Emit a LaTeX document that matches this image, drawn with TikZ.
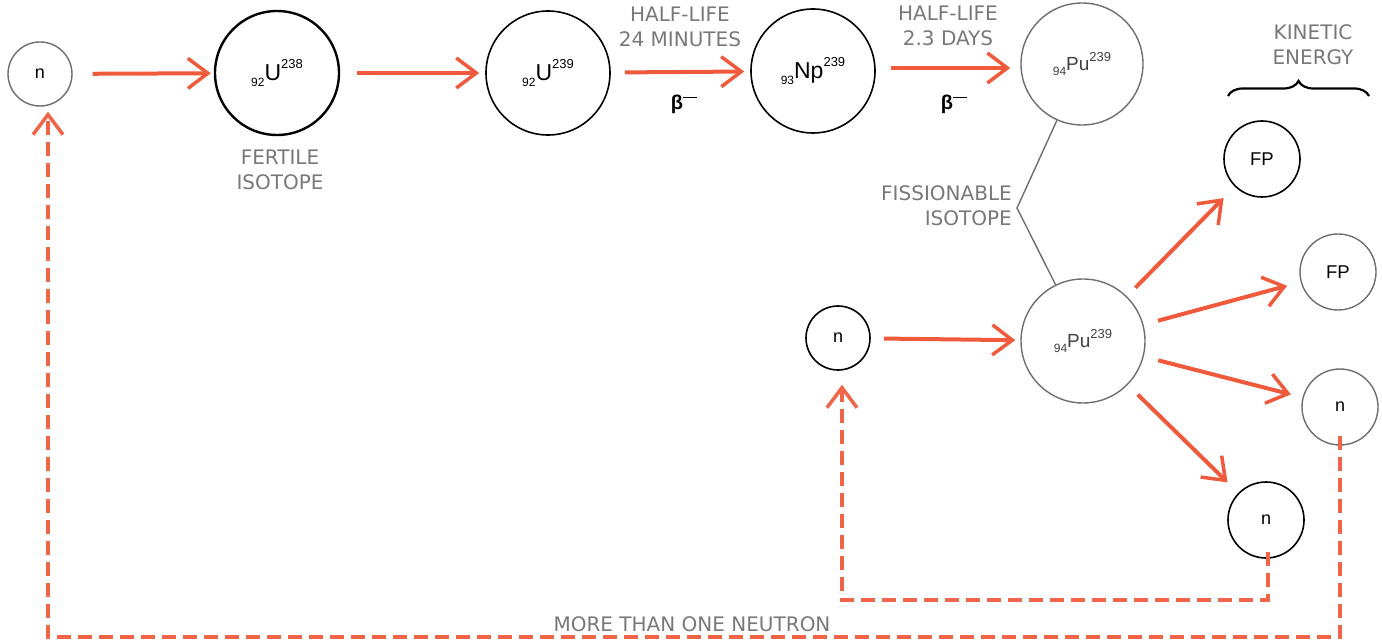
\documentclass[tikz,border=0pt]{standalone}
\usepackage{fontspec}
\setmainfont{Liberation Sans}
\newfontfamily\lblfont{DejaVu Sans}
\usetikzlibrary{arrows.meta,decorations.pathreplacing}
\definecolor{arrred}{RGB}{240,90,60}
\definecolor{dashred}{RGB}{240,100,72}
\definecolor{txtgray}{RGB}{120,120,120}
\definecolor{ringgray}{RGB}{110,110,110}
\newcommand\nuc[4]{{\fontsize{#4}{#4}\selectfont\raisebox{-0.25em}{\fontsize{12}{12}\selectfont #1}#2\raisebox{0.5em}{\fontsize{13}{13}\selectfont #3}}}
\newcommand\betaminus{{\fontsize{20}{20}\selectfont\bfseries β\raisebox{0.55em}{\rule{0.7em}{1.6pt}}}}
\begin{document}
\begin{tikzpicture}[x=1pt,y=-1pt,
  ring/.style={circle,draw,inner sep=0pt,line width=1.6pt},
  grayring/.style={ring,draw=ringgray,line width=1.4pt},
  flow/.style={draw=arrred,line width=4pt,-{Straight Barb[length=20pt,width=30pt,line width=3.5pt]}},
  loop/.style={draw=dashred,line width=3.8pt,dash pattern=on 14pt off 7pt,-{Straight Barb[length=20pt,width=30pt,line width=3.5pt]}},
  lbl/.style={text=txtgray,font=\lblfont\fontsize{20}{25}\selectfont,align=center,inner sep=0pt},
  nlabel/.style={font=\fontsize{18}{18}\selectfont},
  fplabel/.style={font=\fontsize{18.5}{18.5}\selectfont}
]
\useasboundingbox (0,0) rectangle (1382,644);
% nodes
\node[grayring,minimum size=64pt,nlabel] (n1) at (40,74) {n};
\node[ring,line width=2.4pt,minimum size=124pt] (u238) at (277,73) {\nuc{92}{U}{238}{23}};
\node[ring,minimum size=124pt] (u239) at (548,73) {\nuc{92}{U}{239}{23}};
\node[ring,minimum size=124pt] (np) at (813,71) {\nuc{93}{Np}{239}{23}};
\node[grayring,minimum size=122pt,text=black!75] (pu1) at (1082,64) {\nuc{94}{Pu}{239}{19}};
\node[ring,minimum size=64pt,nlabel] (n2) at (838,338) {n};
\node[grayring,minimum size=124pt,text=black!75] (pu2) at (1083,341) {\nuc{94}{Pu}{239}{19}};
\node[ring,minimum size=76pt,fplabel] (fp1) at (1262,159) {FP};
\node[grayring,minimum size=76pt,fplabel] (fp2) at (1338,272) {FP};
\node[grayring,minimum size=76pt,nlabel] (n3) at (1340,407) {n};
\node[ring,minimum size=76pt,nlabel] (n4) at (1266,520) {n};
% labels
\node[lbl] (fert) at (280,170) {FERTILE\\ISOTOPE};
\node[lbl] (hl1) at (680,27) {HALF-LIFE\\24 MINUTES};
\node[lbl] (hl2) at (948,26) {HALF-LIFE\\2.3 DAYS};
\node (b1) at (684,104) {\betaminus};
\node (b2) at (954,104) {\betaminus};
\node[lbl,align=right,anchor=east] (fiss) at (1012,206) {FISSIONABLE\\ISOTOPE};
\node[lbl] (kin) at (1313,45) {KINETIC\\ENERGY};
\node[lbl] (more) at (692,624) {MORE THAN ONE NEUTRON};
% kinetic energy brace
\coordinate (brL) at (1228,96);
\coordinate (brR) at (1369,96);
\draw[line width=2.2pt,decorate,decoration={brace,amplitude=15pt,raise=0pt}] (brL) -- (brR);
% fissionable line
\coordinate (fk) at (1017,208);
\draw[ringgray,line width=1.4pt] (pu1.-114) -- (fk) -- (pu2.116);
% main chain arrows
\draw[flow,shorten <=20pt,shorten >=3pt] (n1) -- (u238);
\draw[flow,shorten <=17pt,shorten >=6pt] (u238) -- (u239);
\draw[flow,shorten <=14pt,shorten >=6pt] (u239) -- (np);
\draw[flow,shorten <=15pt,shorten >=10pt] (np.east) ++(0,-3) coordinate (npe) (npe) -- (pu1.west|-npe);
\draw[flow,shorten <=13pt,shorten >=5pt] (n2) -- (pu2);
% fission products
\draw[flow,shorten <=12pt,shorten >=16pt] (pu2) -- (fp1);
\draw[flow,shorten <=15pt,shorten >=14pt] (pu2) -- (fp2);
\draw[flow,shorten <=15pt,shorten >=12pt] (pu2) -- (n3);
\draw[flow,shorten <=14pt,shorten >=15pt] (pu2) -- (n4);
% feedback loops
\coordinate (c1) at (1000,600);
\coordinate (c2) at (700,637);
\draw[loop] ([shift={(2pt,7pt)}]n4.south) |- (c1) -| ([shift={(4pt,-14pt)}]n2.south);
\draw[loop] ([yshift=10pt]n3.south) |- (c2) -| ([shift={(8pt,-5pt)}]n1.south);
\end{tikzpicture}
\end{document}
